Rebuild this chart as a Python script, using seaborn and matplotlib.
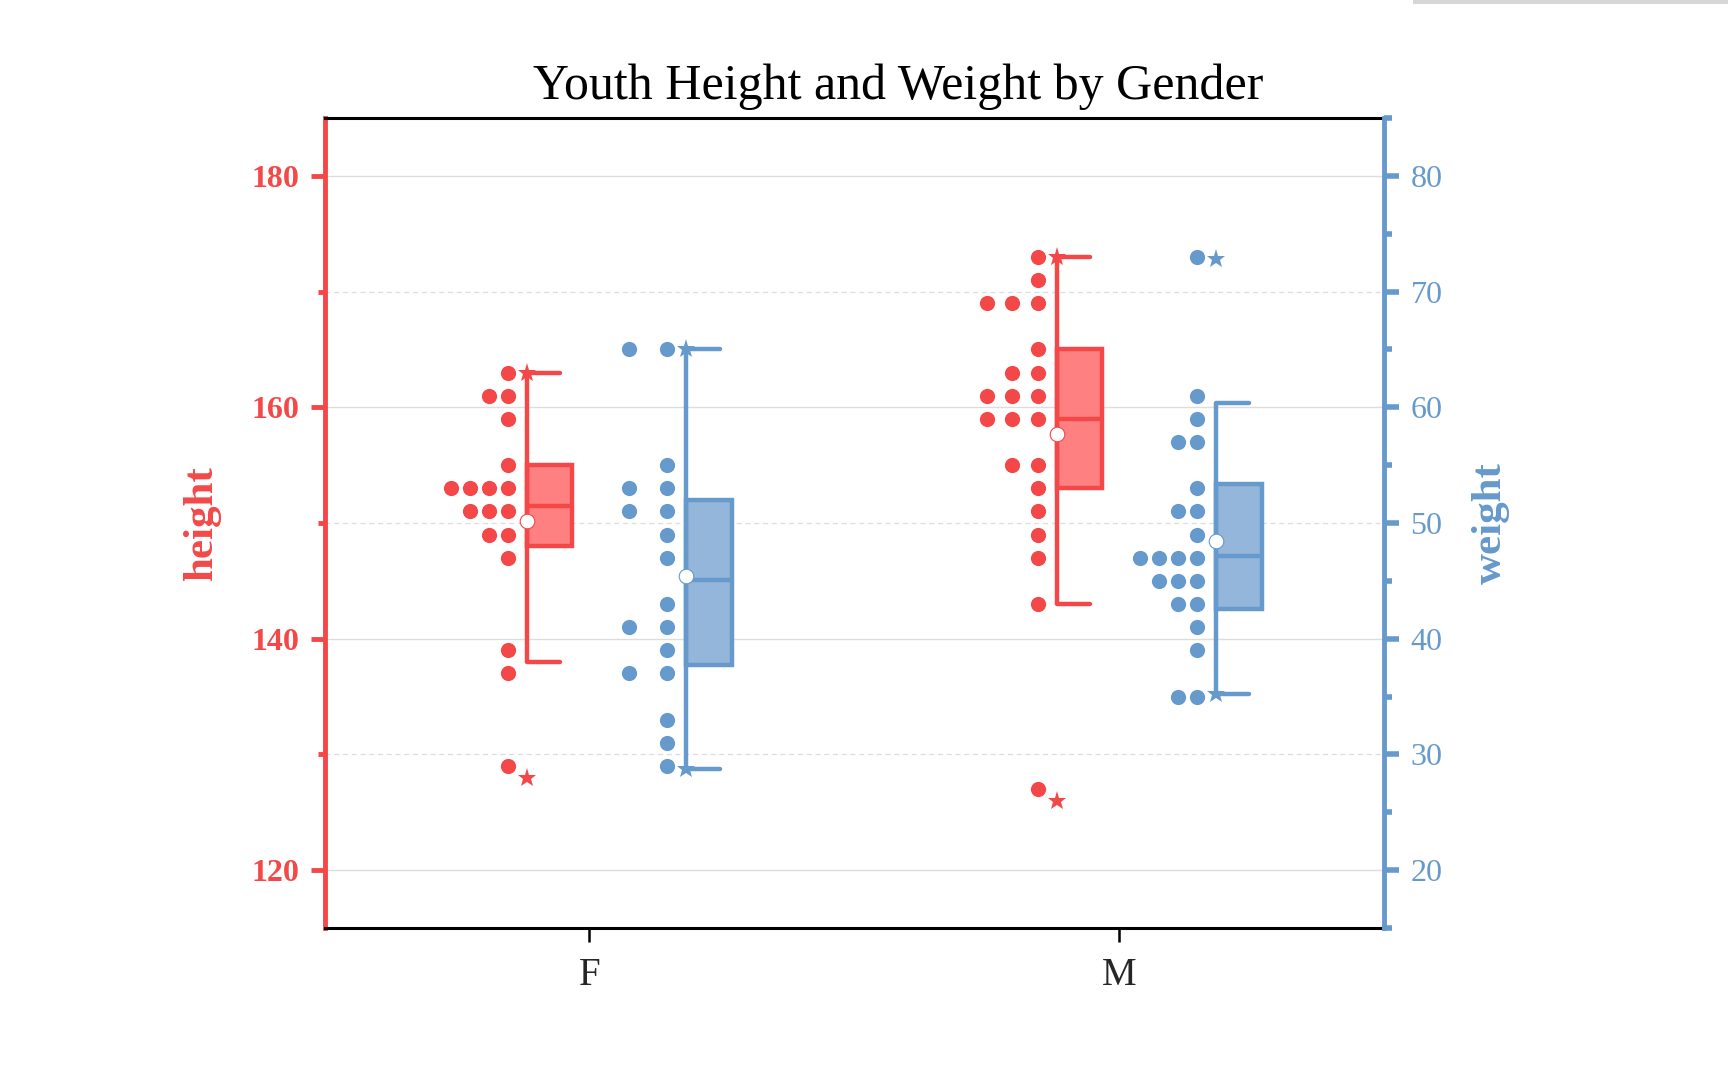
import numpy as np
import pandas as pd
import matplotlib
matplotlib.use("Agg")
import matplotlib.pyplot as plt
from matplotlib.cbook import boxplot_stats
from matplotlib.patches import Rectangle
from matplotlib.ticker import FixedLocator, MultipleLocator
import seaborn as sns

# ===== data =====
GENDERS = ["F", "M"]
HEIGHT_F = [128, 137, 138, 146, 148, 148, 150, 150, 151, 152, 152, 152.5,
            153.5, 155.5, 158, 160, 160.5, 163]
HEIGHT_M = [126, 143, 146, 148, 150, 152.5, 154.5, 154.5, 158, 158, 158, 160,
            160.5, 161, 163, 163.5, 165.5, 168, 168, 168.5, 170, 173]
WEIGHT_F = [28.7, 31, 33, 36, 37.2, 39.2, 40, 41.5, 43.5, 46.7, 48.5, 51,
            51.5, 52.2, 53.5, 54.5, 64.5, 65]
WEIGHT_M = [35.2, 35.5, 38.5, 40.5, 42.0, 42.1, 44.1, 45, 45.5, 46.5, 47, 47.3,
            47.5, 48.5, 50.5, 51.9, 53.9, 56, 56.5, 58.5, 60.35, 72.85]

HEIGHT_TICKS = [120, 140, 160, 180]
WEIGHT_TICKS = [20, 30, 40, 50, 60, 70, 80]

# ===== style =====
RED = "#F44848"
RED_FILL = "#FF8080"
BLUE = "#6699CC"
BLUE_FILL = "#94B6DB"

BIN = 2.0          # dot-histogram bin width
OFF_H = -0.118     # whisker line offset of the height box
OFF_W = 0.183      # whisker line offset of the weight box
BOX_W = 0.086
CAP_W = 0.063
DOT_GAP = 0.036
DOT_SPAN = 0.144


def bin_dots(values, x0):
    centers = np.floor(np.asarray(values) / BIN) * BIN + BIN / 2
    uniq, counts = np.unique(centers, return_counts=True)
    step = DOT_SPAN / counts.max()
    rows = []
    for c, n in zip(uniq, counts):
        for k in range(n):
            rows.append((x0 - DOT_GAP - k * step, c))
    return pd.DataFrame(rows, columns=["x", "y"])


def half_box(ax, values, x0, color, fill):
    st = boxplot_stats(np.asarray(values, dtype=float), whis=1.5)[0]
    ax.add_patch(Rectangle((x0, st["q1"]), BOX_W, st["q3"] - st["q1"],
                           facecolor=fill, edgecolor=color, lw=3.2,
                           joinstyle="miter", zorder=3))
    ax.plot([x0, x0 + BOX_W], [st["med"]] * 2, color=color, lw=3.2,
            solid_capstyle="butt", zorder=4)
    ax.plot([x0, x0], [st["whislo"], st["whishi"]], color=color, lw=3.2,
            solid_capstyle="butt", zorder=4)
    for w in (st["whislo"], st["whishi"]):
        ax.plot([x0, x0 + CAP_W], [w, w], color=color, lw=3.2,
                solid_capstyle="round", zorder=4)
    ax.plot([x0, x0], [min(values), max(values)], ls="none", marker="*",
            ms=14, color=color, mew=0, zorder=5)
    ax.plot([x0], [st["mean"]], marker="o", ms=10.5, mfc="white", mec=color,
            mew=0.8, zorder=6)


sns.set_style("white")
plt.rcParams["font.family"] = ["Liberation Serif", "DejaVu Serif"]

fig = plt.figure(figsize=(17.28, 10.8), dpi=100)
ax = fig.add_axes([324.6 / 1728, 1 - 928 / 1080, (1384 - 324.6) / 1728, (928 - 118) / 1080])
ax2 = ax.twinx()

for i, (h, w) in enumerate([(HEIGHT_F, WEIGHT_F), (HEIGHT_M, WEIGHT_M)]):
    xh, xw = i + OFF_H, i + OFF_W
    sns.scatterplot(data=bin_dots(h, xh), x="x", y="y", color=RED, s=120,
                    linewidth=0, ax=ax, zorder=2, legend=False)
    half_box(ax, h, xh, RED, RED_FILL)
    sns.scatterplot(data=bin_dots(w, xw), x="x", y="y", color=BLUE, s=120,
                    linewidth=0, ax=ax2, zorder=2, legend=False)
    half_box(ax2, w, xw, BLUE, BLUE_FILL)

ax.set_xlim(-0.5, 1.5)
ax.set_ylim(115, 185)
ax2.set_ylim(15, 85)
ax.set_xticks(range(len(GENDERS)))
ax.set_xticklabels(GENDERS)
ax.set_xlabel("")
ax2.set_xlabel("")

# left axis (height)
ax.yaxis.set_major_locator(FixedLocator(HEIGHT_TICKS))
ax.yaxis.set_minor_locator(FixedLocator([130, 150, 170]))
ax.grid(False)
ax.yaxis.grid(True, which="major", color="#DDDDDD", lw=1.0, ls="-")
ax.yaxis.grid(True, which="minor", color="#DDDDDD", lw=0.9, ls=(0, (4, 3)))
ax.set_axisbelow(True)
ax.tick_params(axis="y", which="major", left=True, direction="out", length=10,
               width=3.5, color=RED, labelcolor=RED, labelsize=23, pad=8)
ax.tick_params(axis="y", which="minor", left=True, direction="out", length=5,
               width=3.5, color=RED)
for lb in ax.get_yticklabels():
    lb.set_fontweight("bold")
ax.tick_params(axis="x", bottom=True, direction="out", length=10, width=1.8,
               color="black", labelsize=28, pad=11)
ax.set_ylabel("height", color=RED, fontsize=31, fontweight="bold")
ax.yaxis.set_label_coords(-0.098, 0.5)

# right axis (weight)
ax2.yaxis.set_major_locator(FixedLocator(WEIGHT_TICKS))
ax2.yaxis.set_minor_locator(MultipleLocator(5))
ax2.grid(False)
ax2.tick_params(axis="y", which="major", right=True, direction="out", length=11,
                width=4, color=BLUE, labelcolor=BLUE, labelsize=23, pad=8)
ax2.tick_params(axis="y", which="minor", right=True, direction="out", length=5.5,
                width=4, color=BLUE)
ax2.set_ylabel("weight", color=BLUE, fontsize=31, fontweight="bold")
ax2.yaxis.set_label_coords(1.083, 0.5)

# spines
ax.spines["left"].set_color(RED)
ax.spines["left"].set_linewidth(3.5)
ax.spines["right"].set_visible(False)
for s in ("top", "bottom"):
    ax.spines[s].set_color("black")
    ax.spines[s].set_linewidth(2.2)
for s in ("left", "top", "bottom"):
    ax2.spines[s].set_visible(False)
ax2.spines["right"].set_color(BLUE)
ax2.spines["right"].set_linewidth(3.5)

fig.text(898 / 1728, 1 - 99 / 1080, "Youth Height and Weight by Gender",
         ha="center", va="baseline", fontsize=36, color="black")

# faint window shadow at the top right of the reference
fig.patches.append(Rectangle((1413 / 1728, 1 - 4 / 1080), 315 / 1728, 4 / 1080,
                             transform=fig.transFigure, facecolor="#D6D6D6",
                             edgecolor="none"))

fig.savefig("out.png", dpi=100)
